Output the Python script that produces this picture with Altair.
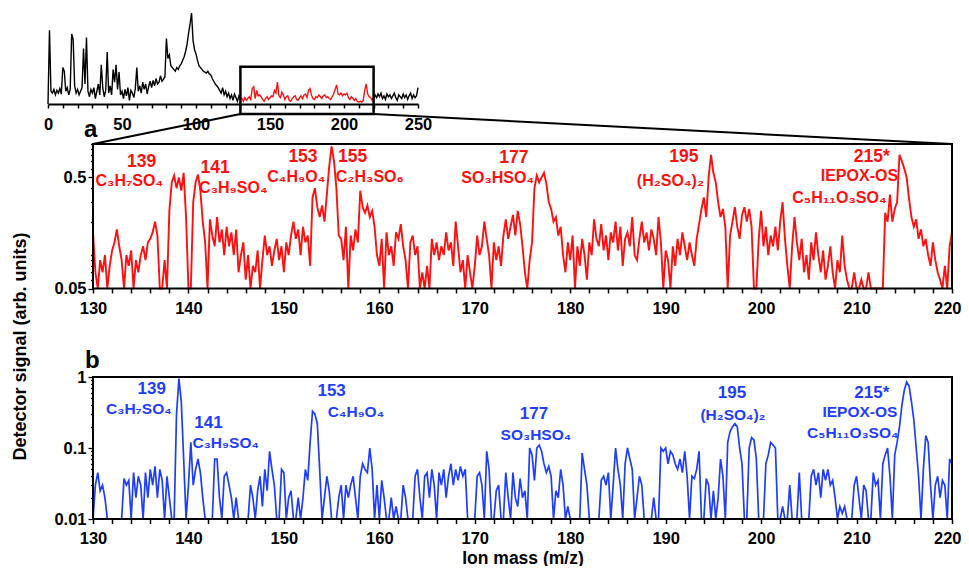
import altair as alt
import pandas as pd

FONT = "Liberation Sans, Arial, Helvetica, sans-serif"
RED = "#FF1010"
BLUE = "#1F3DFF"

# ---------------- data ----------------
# overview spectrum (top inset): one value per m/z unit, linear arbitrary units
INSET_LEFT = [  # m/z 0..130
    0, 81, 14, 12, 16, 10, 15, 12, 17, 11,
    40, 36, 14, 18, 10, 16, 77, 71, 20, 12,
    16, 10, 14, 18, 61, 22, 73, 14, 8, 16,
    12, 18, 6, 14, 22, 10, 43, 18, 8, 15,
    57, 12, 20, 10, 38, 24, 43, 16, 35, 10,
    14, 6, 16, 9, 18, 4, 15, 12, 7, 17,
    40, 14, 20, 12, 24, 16, 22, 11, 19, 25,
    18, 26, 20, 28, 22, 24, 31, 25, 27, 30,
    72, 50, 54, 42, 40, 38, 36, 40, 38, 42,
    44, 48, 52, 58, 66, 78, 88, 100, 70, 60,
    55, 48, 42, 40, 38, 36, 35, 34, 36, 33,
    32, 28, 25, 22, 20, 18, 15, 12, 18, 10,
    14, 8, 12, 6, 10, 4, 11, 7, 3, 9,
    6,
]
INSET_RED = [  # m/z 130..220
    6, 6, 3, 7, 4, 6, 8, 5, 17, 19,
    6, 15, 9, 10, 8, 5, 3, 6, 8, 5,
    7, 9, 8, 15, 12, 24, 9, 7, 13, 10,
    5, 8, 9, 4, 3, 6, 8, 9, 5, 4,
    7, 9, 6, 10, 11, 7, 15, 17, 10, 6,
    5, 8, 7, 10, 8, 6, 9, 10, 7, 8,
    6, 5, 8, 11, 16, 21, 11, 10, 12, 9,
    11, 10, 12, 7, 5, 8, 6, 4, 6, 3,
    2, 3, 2, 4, 15, 22, 11, 8, 7, 4,
    6,
]
INSET_RIGHT = [  # m/z 220..250
    6, 10, 7, 11, 8, 12, 6, 9, 5, 11,
    8, 10, 6, 9, 12, 7, 4, 10, 8, 6,
    11, 7, 10, 5, 9, 12, 6, 10, 7, 9,
    18,
]
ZOOM_WINDOW = [130, 220]
ZOOM_BOX_SIGNAL = [-11, 41]

# panel a (red) and panel b (blue): m/z 130..220 every 0.25
MZ_START, MZ_STEP = 130.0, 0.25
SIG_A = [
    0.16, 0.07, 0.04, 0.09,   0.07, 0.10, 0.04, 0.08,   0.11, 0.13, 0.17, 0.12,   # 130-132
    0.09, 0.04, 0.10, 0.08,   0.11, 0.04, 0.09, 0.07,   0.10, 0.12, 0.09, 0.13,   # 133-135
    0.14, 0.16, 0.20, 0.15,   0.05, 0.04, 0.09, 0.04,   0.25, 0.45, 0.52, 0.40,   # 136-138
    0.50, 0.38, 0.55, 0.22,   0.04, 0.04, 0.30, 0.45,   0.53, 0.38, 0.20, 0.13,   # 139-141
    0.04, 0.21, 0.15, 0.12,   0.22, 0.13, 0.17, 0.10,   0.18, 0.12, 0.16, 0.10,   # 142-144
    0.17, 0.07, 0.10, 0.13,   0.06, 0.10, 0.04, 0.08,   0.07, 0.11, 0.04, 0.09,   # 145-147
    0.15, 0.10, 0.12, 0.08,   0.11, 0.14, 0.09, 0.12,   0.07, 0.13, 0.10, 0.15,   # 148-150
    0.20, 0.14, 0.17, 0.10,   0.18, 0.13, 0.15, 0.08,   0.33, 0.40, 0.27, 0.22,   # 151-153
    0.28, 0.20, 0.35, 0.63,   0.95, 0.70, 0.40, 0.15,   0.14, 0.09, 0.18, 0.04,   # 154-156
    0.15, 0.11, 0.17, 0.13,   0.38, 0.27, 0.24, 0.28,   0.22, 0.25, 0.18, 0.10,   # 157-159
    0.08, 0.14, 0.05, 0.16,   0.10, 0.12, 0.08, 0.16,   0.14, 0.19, 0.12, 0.09,   # 160-162
    0.04, 0.13, 0.15, 0.10,   0.12, 0.04, 0.07, 0.05,   0.08, 0.04, 0.14, 0.10,   # 163-165
    0.13, 0.09, 0.12, 0.10,   0.16, 0.11, 0.13, 0.08,   0.20, 0.12, 0.07, 0.09,   # 166-168
    0.05, 0.10, 0.07, 0.04,   0.08, 0.15, 0.10, 0.12,   0.20, 0.14, 0.10, 0.04,   # 169-171
    0.13, 0.09, 0.12, 0.08,   0.15, 0.21, 0.14, 0.18,   0.23, 0.15, 0.25, 0.19,   # 172-174
    0.12, 0.07, 0.05, 0.09,   0.13, 0.40, 0.52, 0.45,   0.50, 0.55, 0.44, 0.30,   # 175-177
    0.26, 0.20, 0.22, 0.15,   0.18, 0.10, 0.07, 0.13,   0.09, 0.15, 0.05, 0.12,   # 178-180
    0.08, 0.14, 0.10, 0.06,   0.13, 0.10, 0.21, 0.14,   0.12, 0.19, 0.11, 0.15,   # 181-183
    0.09, 0.16, 0.13, 0.20,   0.11, 0.18, 0.08, 0.14,   0.16, 0.12, 0.22, 0.10,   # 184-186
    0.09, 0.14, 0.20, 0.13,   0.16, 0.11, 0.17, 0.14,   0.10, 0.22, 0.13, 0.04,   # 187-189
    0.11, 0.09, 0.04, 0.12,   0.08, 0.14, 0.10, 0.16,   0.12, 0.09, 0.13, 0.10,   # 190-192
    0.08, 0.14, 0.19, 0.26,   0.33, 0.22, 0.50, 0.80,   0.55, 0.45, 0.30, 0.22,   # 193-195
    0.26, 0.18, 0.04, 0.15,   0.20, 0.27, 0.18, 0.14,   0.23, 0.27, 0.20, 0.26,   # 196-198
    0.18, 0.04, 0.04, 0.14,   0.25, 0.12, 0.18, 0.10,   0.15, 0.12, 0.18, 0.11,   # 199-201
    0.20, 0.30, 0.14, 0.08,   0.05, 0.12, 0.22, 0.13,   0.09, 0.14, 0.07, 0.10,   # 202-204
    0.06, 0.13, 0.09, 0.16,   0.10, 0.07, 0.11, 0.06,   0.08, 0.12, 0.07, 0.05,   # 205-207
    0.09, 0.07, 0.15, 0.08,   0.06, 0.05, 0.04, 0.07,   0.04, 0.04, 0.06, 0.04,   # 208-210
    0.04, 0.07, 0.04, 0.04,   0.04, 0.04, 0.04, 0.04,   0.24, 0.20, 0.35, 0.20,   # 211-213
    0.26, 0.30, 0.80, 0.70,   0.60, 0.50, 0.32, 0.22,   0.18, 0.21, 0.14, 0.17,   # 214-216
    0.12, 0.14, 0.10, 0.08,   0.13, 0.09, 0.07, 0.06,   0.04, 0.08, 0.05, 0.12,   # 217-219
    0.16,                                                                         # 220
]
SIG_B = [
    0.005, 0.03, 0.045, 0.025,   0.03, 0.02, 0.005, 0.005,   0.005, 0.005, 0.005, 0.005,   # 130-132
    0.005, 0.037, 0.03, 0.035,   0.005, 0.045, 0.02, 0.04,   0.03, 0.005, 0.045, 0.02,     # 133-135
    0.05, 0.03, 0.055, 0.02,     0.05, 0.035, 0.005, 0.04,   0.02, 0.005, 0.005, 0.3,      # 136-138
    0.95, 0.45, 0.07, 0.005,     0.03, 0.12, 0.03, 0.05,     0.07, 0.045, 0.02, 0.005,     # 139-141
    0.005, 0.005, 0.005, 0.07,   0.07, 0.02, 0.005, 0.04,    0.045, 0.03, 0.02, 0.005,     # 142-144
    0.02, 0.005, 0.005, 0.005,   0.005, 0.005, 0.03, 0.02,   0.005, 0.025, 0.04, 0.015,    # 145-147
    0.05, 0.025, 0.09, 0.05,     0.03, 0.005, 0.005, 0.05,   0.045, 0.005, 0.02, 0.025,    # 148-150
    0.005, 0.005, 0.02, 0.005,   0.02, 0.05, 0.035, 0.12,    0.33, 0.30, 0.22, 0.05,       # 151-153
    0.005, 0.02, 0.04, 0.025,    0.005, 0.005, 0.005, 0.02,  0.03, 0.005, 0.03, 0.02,      # 154-156
    0.03, 0.04, 0.02, 0.005,     0.04, 0.06, 0.05, 0.045,    0.1, 0.05, 0.005, 0.03,       # 157-159
    0.005, 0.035, 0.02, 0.005,   0.005, 0.02, 0.005, 0.015,  0.005, 0.005, 0.03, 0.02,     # 160-162
    0.005, 0.005, 0.005, 0.04,   0.05, 0.02, 0.005, 0.04,    0.045, 0.02, 0.05, 0.03,      # 163-165
    0.005, 0.045, 0.03, 0.05,    0.02, 0.04, 0.06, 0.03,     0.05, 0.035, 0.055, 0.04,     # 166-168
    0.05, 0.005, 0.005, 0.005,   0.005, 0.04, 0.045, 0.03,   0.005, 0.09, 0.05, 0.005,     # 169-171
    0.005, 0.025, 0.03, 0.005,   0.005, 0.045, 0.02, 0.005,  0.045, 0.02, 0.015, 0.037,    # 172-174
    0.02, 0.025, 0.005, 0.1,     0.08, 0.035, 0.1, 0.11,     0.09, 0.06, 0.045, 0.055,     # 175-177
    0.04, 0.005, 0.025, 0.02,    0.05, 0.03, 0.005, 0.015,   0.005, 0.005, 0.005, 0.005,   # 178-180
    0.005, 0.085, 0.05, 0.03,    0.005, 0.005, 0.005, 0.005, 0.005, 0.035, 0.04, 0.03,     # 181-183
    0.045, 0.005, 0.03, 0.1,     0.05, 0.03, 0.005, 0.06,    0.1, 0.07, 0.05, 0.005,       # 184-186
    0.02, 0.04, 0.03, 0.005,     0.005, 0.005, 0.005, 0.02,  0.005, 0.005, 0.1, 0.09,      # 187-189
    0.1, 0.06, 0.09, 0.08,       0.06, 0.05, 0.07, 0.045,    0.09, 0.04, 0.005, 0.04,      # 190-192
    0.037, 0.05, 0.09, 0.005,    0.005, 0.037, 0.03, 0.005,  0.025, 0.005, 0.02, 0.07,     # 193-195
    0.04, 0.005, 0.12, 0.17,     0.2, 0.22, 0.2, 0.1,        0.06, 0.005, 0.005, 0.1,      # 196-198
    0.14, 0.13, 0.07, 0.005,     0.005, 0.005, 0.06, 0.08,   0.12, 0.11, 0.1, 0.005,       # 199-201
    0.005, 0.015, 0.005, 0.005,  0.03, 0.005, 0.005, 0.005,  0.045, 0.005, 0.005, 0.005,   # 202-204
    0.005, 0.04, 0.05, 0.03,     0.045, 0.02, 0.05, 0.035,   0.05, 0.03, 0.035, 0.02,      # 205-207
    0.005, 0.015, 0.012, 0.015,  0.005, 0.005, 0.005, 0.03,  0.04, 0.02, 0.005, 0.03,      # 208-210
    0.025, 0.005, 0.005, 0.045,  0.03, 0.035, 0.005, 0.06,   0.08, 0.1, 0.04, 0.005,       # 211-213
    0.08, 0.12, 0.2, 0.4,        0.65, 0.85, 0.75, 0.45,     0.25, 0.1, 0.04, 0.005,       # 214-216
    0.05, 0.15, 0.12, 0.03,      0.005, 0.03, 0.04, 0.02,    0.035, 0.03, 0.005, 0.07,     # 217-219
    0.06,                                                                                   # 220
]

# peak annotations (m/z position, signal position of text baseline)
A_NUM_TEXT = ["139", "141", "153", "155", "177", "195", "215*"]
A_NUM_MZ = [135.1, 142.8, 152.0, 157.2, 174.1, 191.9, 211.6]
A_NUM_SIG = [0.62, 0.55, 0.69, 0.69, 0.68, 0.69, 0.69]
A_FORM_TEXT = ["C₃H₇SO₄", "C₃H₉SO₄", "C₄H₉O₄", "C₂H₃SO₆", "SO₃HSO₄", "(H₂SO₄)₂", "IEPOX-OS", "C₅H₁₁O₃SO₄"]
A_FORM_MZ = [133.8, 144.7, 151.3, 159.0, 172.4, 190.5, 210.3, 208.2]
A_FORM_SIG = [0.42, 0.36, 0.456, 0.456, 0.446, 0.42, 0.465, 0.295]

B_NUM_TEXT = ["139", "141", "153", "177", "195", "215*"]
B_NUM_MZ = [136.15, 142.1, 155.0, 176.2, 196.95, 211.6]
B_NUM_SIG = [0.576, 0.191, 0.54, 0.256, 0.506, 0.506]
B_FORM_TEXT = ["C₃H₇SO₄", "C₃H₉SO₄", "C₄H₉O₄", "SO₃HSO₄", "(H₂SO₄)₂", "IEPOX-OS", "C₅H₁₁O₃SO₄"]
B_FORM_MZ = [134.8, 143.9, 157.55, 176.4, 197.05, 210.35, 209.6]
B_FORM_SIG = [0.301, 0.1, 0.273, 0.13, 0.248, 0.273, 0.138]

# ---------------- layout (px inside the chart) ----------------
W, H = 953, 558
IN_X = [40, 410]
IN_Y = [96, 5]
P_X = [85, 944]
A_Y = [280.5, 136]
B_Y = [511, 369]

# ---------------- frames ----------------
dfA = pd.DataFrame({"mz": [MZ_START + i * MZ_STEP for i in range(len(SIG_A))], "sig": SIG_A})
dfB = pd.DataFrame({"mz": [MZ_START + i * MZ_STEP for i in range(len(SIG_B))], "sig": SIG_B})
dfInL = pd.DataFrame({"mz": list(range(0, len(INSET_LEFT))), "sig": INSET_LEFT})
dfInR = pd.DataFrame({"mz": list(range(130, 130 + len(INSET_RED))), "sig": INSET_RED})
dfInRt = pd.DataFrame({"mz": list(range(220, 220 + len(INSET_RIGHT))), "sig": INSET_RIGHT})

# ---------------- scales & axes ----------------
in_xs = alt.Scale(domain=[0, 250], range=IN_X, nice=False, zero=False)
in_ys = alt.Scale(domain=[0, 100], range=IN_Y, nice=False, zero=False)
px_s = alt.Scale(domain=[130, 220], range=P_X, nice=False, zero=False)
a_ys = alt.Scale(type="log", domain=[0.05, 1.0], range=A_Y, nice=False, clamp=True)
b_ys = alt.Scale(type="log", domain=[0.01, 1.0], range=B_Y, nice=False, clamp=True)

LBL = dict(labelFont=FONT, labelFontSize=16.5, labelFontWeight="bold", labelColor="black",
           labelFlush=False, labelOverlap=False, grid=False, tickColor="black")

def in_xaxis():
    return alt.Axis(orient="bottom", offset=IN_Y[0] - H, values=list(range(0, 251, 10)),
                    labelExpr="datum.value % 50 === 0 ? datum.label : ''",
                    tickSize=4, tickWidth=1.5, domainWidth=2, domainColor="black",
                    labelPadding=8, title=None, zindex=1, **LBL)

def p_xaxis(offset, title=None):
    kw = dict(orient="bottom", offset=offset, values=list(range(130, 221, 2)),
              labelExpr="datum.value % 10 === 0 ? datum.label : ''",
              labelAlign={"condition": {"test": "datum.value === 220", "value": "right"}, "value": "center"},
              labelOffset={"condition": {"test": "datum.value === 220", "value": 9}, "value": 0},
              tickSize=4.5, tickWidth=1.5, domain=False, labelPadding=7, zindex=1, **LBL)
    if title:
        kw.update(title=title, titleFont=FONT, titleFontSize=17.5, titleFontWeight="bold",
                  titleColor="black", titleBaseline="alphabetic", titleY=44)
    else:
        kw.update(title=None)
    return alt.Axis(**kw)

A_TICKS = [0.05, 0.06, 0.07, 0.08, 0.09, 0.1, 0.2, 0.3, 0.4, 0.5, 0.6, 0.7, 0.8, 0.9, 1.0]
B_TICKS = [0.01, 0.02, 0.03, 0.04, 0.05, 0.06, 0.07, 0.08, 0.09,
           0.1, 0.2, 0.3, 0.4, 0.5, 0.6, 0.7, 0.8, 0.9, 1.0]

def a_yaxis():
    return alt.Axis(orient="left", offset=-P_X[0], values=A_TICKS,
                    labelExpr="datum.value === 0.05 ? '0.05' : (datum.value === 0.5 ? '0.5' : '')",
                    tickSize={"condition": {"test": "datum.value === 0.05 || datum.value === 0.5", "value": 5}, "value": 2.5},
                    tickWidth=1.3, domain=False, labelPadding=2, title=None, zindex=1, **LBL)

def b_yaxis():
    return alt.Axis(orient="left", offset=-P_X[0], values=B_TICKS,
                    labelExpr="datum.value === 0.01 ? '0.01' : (datum.value === 0.1 ? '0.1' : (datum.value === 1 ? '1' : ''))",
                    tickSize={"condition": {"test": "datum.value === 0.01 || datum.value === 0.1 || datum.value === 1", "value": 5}, "value": 2.5},
                    tickWidth=1.3, domain=False, labelPadding=2, title=None, zindex=1, **LBL)

# ---------------- inset ----------------
def inset_line(df, color):
    return alt.Chart(df).mark_line(color=color, strokeWidth=1.4).encode(
        x=alt.X("mz:Q", scale=in_xs, axis=in_xaxis()),
        y=alt.Y("sig:Q", scale=in_ys, axis=None),
    )

box_df = pd.DataFrame({"x0": [ZOOM_WINDOW[0]], "x1": [ZOOM_WINDOW[1]],
                       "y0": [ZOOM_BOX_SIGNAL[0]], "y1": [ZOOM_BOX_SIGNAL[1]]})
inset_box = alt.Chart(box_df).mark_rect(fillOpacity=0, stroke="black", strokeWidth=2.5).encode(
    x=alt.X("x0:Q", scale=in_xs, axis=in_xaxis()), x2="x1",
    y=alt.Y("y0:Q", scale=in_ys, axis=None), y2="y1",
)
inset = alt.layer(inset_line(dfInL, "black"), inset_line(dfInRt, "black"),
                  inset_line(dfInR, RED), inset_box)

# ---------------- panels ----------------
def panel(df, color, lw, ys, yaxis, xaxis, dom, nums, forms, numsize, formsize):
    xa = lambda: alt.X("mz:Q", scale=px_s, axis=xaxis())
    ya = lambda: alt.Y("sig:Q", scale=ys, axis=yaxis())
    line = alt.Chart(df).mark_line(color=color, strokeWidth=lw).encode(x=xa(), y=ya())
    fdf = pd.DataFrame({"mz": [130], "x1": [220], "sig": [dom[0]], "y1": [dom[1]]})
    frame = alt.Chart(fdf).mark_rect(fillOpacity=0, stroke="black", strokeWidth=2).encode(
        x=xa(), x2="x1", y=ya(), y2="y1")
    ndf = pd.DataFrame({"mz": nums[1], "sig": nums[2], "t": nums[0]})
    tdf = pd.DataFrame({"mz": forms[1], "sig": forms[2], "t": forms[0]})
    ntext = alt.Chart(ndf).mark_text(color=color, font=FONT, fontSize=numsize, fontWeight="bold",
                                     align="center", baseline="alphabetic").encode(x=xa(), y=ya(), text="t:N")
    ftext = alt.Chart(tdf).mark_text(color=color, font=FONT, fontSize=formsize, fontWeight="bold",
                                     align="center", baseline="alphabetic").encode(x=xa(), y=ya(), text="t:N")
    return alt.layer(line, ntext, ftext, frame)

panelA = panel(dfA, RED, 1.9, a_ys, a_yaxis, lambda: p_xaxis(A_Y[0] - H), [0.05, 1.0],
               (A_NUM_TEXT, A_NUM_MZ, A_NUM_SIG), (A_FORM_TEXT, A_FORM_MZ, A_FORM_SIG), 17.5, 16)
panelB = panel(dfB, BLUE, 1.7, b_ys, b_yaxis, lambda: p_xaxis(B_Y[0] - H, "Ion mass (m/z)"), [0.01, 1.0],
               (B_NUM_TEXT, B_NUM_MZ, B_NUM_SIG), (B_FORM_TEXT, B_FORM_MZ, B_FORM_SIG), 17, 15.5)

# ---------------- decorations (zoom connectors, panel letters, y title) ----------------
def inset_px(mz, sig):
    x = IN_X[0] + (mz - 0) / 250 * (IN_X[1] - IN_X[0])
    y = IN_Y[0] + sig / 100 * (IN_Y[1] - IN_Y[0])
    return x, y

one = pd.DataFrame({"k": [0]})
lx, ly = inset_px(ZOOM_WINDOW[0], ZOOM_BOX_SIGNAL[0])
rx, ry = inset_px(ZOOM_WINDOW[1], ZOOM_BOX_SIGNAL[0])
conn_l = alt.Chart(one).mark_rule(color="black", strokeWidth=2).encode(
    x=alt.value(lx), y=alt.value(ly), x2=alt.value(P_X[0]), y2=alt.value(A_Y[1]))
conn_r = alt.Chart(one).mark_rule(color="black", strokeWidth=2).encode(
    x=alt.value(rx), y=alt.value(ry), x2=alt.value(P_X[1]), y2=alt.value(A_Y[1]))
let_a = alt.Chart(one).mark_text(font=FONT, fontSize=24, fontWeight="bold", color="black",
                                 align="left", baseline="alphabetic").encode(
    x=alt.value(P_X[0] - 9), y=alt.value(A_Y[1] - 7), text=alt.value("a"))
let_b = alt.Chart(one).mark_text(font=FONT, fontSize=24, fontWeight="bold", color="black",
                                 align="left", baseline="alphabetic").encode(
    x=alt.value(P_X[0] - 8), y=alt.value(B_Y[1] - 9), text=alt.value("b"))
ytitle = alt.Chart(one).mark_text(font=FONT, fontSize=18, fontWeight="bold", color="black",
                                  angle=270, align="center", baseline="middle").encode(
    x=alt.value(13), y=alt.value(338.5), text=alt.value("Detector signal (arb. units)"))

chart = alt.layer(inset, panelA, panelB, conn_l, conn_r, let_a, let_b, ytitle).resolve_scale(
    x="independent", y="independent"
).resolve_axis(x="independent", y="independent").properties(
    width=W, height=H, autosize=alt.AutoSizeParams(type="none"), padding=0
).configure_view(stroke=None)

chart.save("out.html", embed_options={"renderer": "svg", "actions": False})
